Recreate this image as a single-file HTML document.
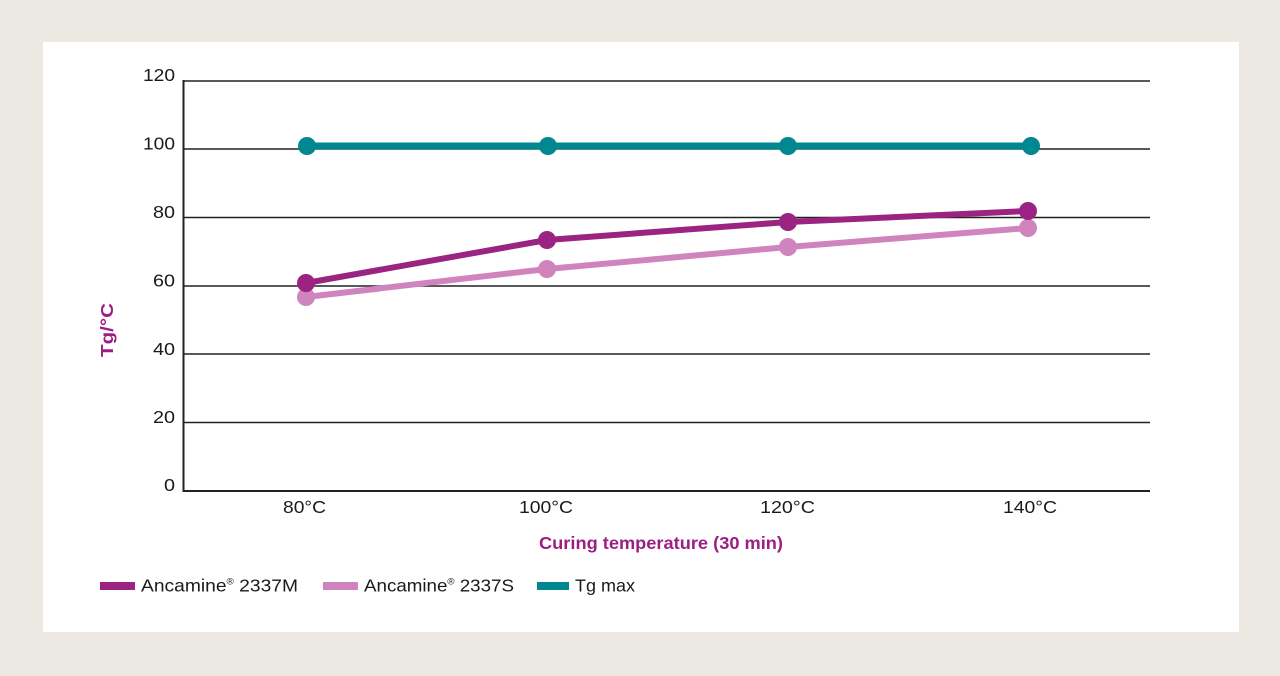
<!DOCTYPE html>
<html><head><meta charset="utf-8"><style>
html,body{margin:0;padding:0;background:#ece9e2;}
svg{display:block;}
text{font-family:"Liberation Sans",sans-serif;}
</style></head><body>
<svg width="1280" height="676" viewBox="0 0 1280 676" xmlns="http://www.w3.org/2000/svg">
<rect x="0" y="0" width="1280" height="676" fill="#ece9e2"/>
<rect x="43" y="42" width="1196" height="590" fill="#ffffff"/>
<g stroke="#222" stroke-width="1.6">
<line x1="183" y1="81" x2="1150" y2="81"/>
<line x1="183" y1="149" x2="1150" y2="149"/>
<line x1="183" y1="217.5" x2="1150" y2="217.5"/>
<line x1="183" y1="286" x2="1150" y2="286"/>
<line x1="183" y1="354" x2="1150" y2="354"/>
<line x1="183" y1="422.5" x2="1150" y2="422.5"/>
<line x1="183" y1="491" x2="1150" y2="491" stroke-width="2"/>
<line x1="183.5" y1="80" x2="183.5" y2="492" stroke-width="2"/>
</g>
<g font-size="17.5" fill="#1a1a1a" text-anchor="end">
<text x="175" y="81" textLength="32" lengthAdjust="spacingAndGlyphs">120</text>
<text x="175" y="149.5" textLength="32" lengthAdjust="spacingAndGlyphs">100</text>
<text x="175" y="218" textLength="22" lengthAdjust="spacingAndGlyphs">80</text>
<text x="175" y="286.5" textLength="22" lengthAdjust="spacingAndGlyphs">60</text>
<text x="175" y="355" textLength="22" lengthAdjust="spacingAndGlyphs">40</text>
<text x="175" y="423" textLength="22" lengthAdjust="spacingAndGlyphs">20</text>
<text x="175" y="491" textLength="11" lengthAdjust="spacingAndGlyphs">0</text>
</g>
<g font-size="17.5" fill="#1a1a1a">
<text x="283" y="513" textLength="43" lengthAdjust="spacingAndGlyphs">80°C</text>
<text x="519" y="513" textLength="54" lengthAdjust="spacingAndGlyphs">100°C</text>
<text x="760" y="513" textLength="55" lengthAdjust="spacingAndGlyphs">120°C</text>
<text x="1003" y="513" textLength="54" lengthAdjust="spacingAndGlyphs">140°C</text>
</g>
<text x="661" y="549" font-size="17.5" font-weight="bold" fill="#9b1f83" text-anchor="middle" textLength="244" lengthAdjust="spacingAndGlyphs">Curing temperature (30 min)</text>
<text transform="translate(113,330) rotate(-90)" font-size="17.5" font-weight="bold" fill="#9b1f83" text-anchor="middle" textLength="54" lengthAdjust="spacingAndGlyphs">Tg/°C</text>
<!-- series -->
<polyline points="307,146 548,146 788,146 1031,146" fill="none" stroke="#00878f" stroke-width="7"/>
<g fill="#00878f">
<circle cx="307" cy="146" r="9"/><circle cx="548" cy="146" r="9"/><circle cx="788" cy="146" r="9"/><circle cx="1031" cy="146" r="9"/>
</g>
<polyline points="306,297 547,269 788,247 1028,228" fill="none" stroke="#cf84bd" stroke-width="6"/>
<g fill="#cf84bd">
<circle cx="306" cy="297" r="9"/><circle cx="547" cy="269" r="9"/><circle cx="788" cy="247" r="9"/><circle cx="1028" cy="228" r="9"/>
</g>
<polyline points="306,283 547,240 788,222 1028,211" fill="none" stroke="#9b2382" stroke-width="6"/>
<g fill="#9b2382">
<circle cx="306" cy="283" r="9"/><circle cx="547" cy="240" r="9"/><circle cx="788" cy="222" r="9"/><circle cx="1028" cy="211" r="9"/>
</g>
<!-- legend -->
<rect x="100" y="582" width="35" height="8" fill="#9b2382"/>
<text x="141" y="591.5" font-size="17.5" fill="#1a1a1a" textLength="157" lengthAdjust="spacingAndGlyphs">Ancamine<tspan font-size="9" dy="-7">®</tspan><tspan dy="7"> 2337M</tspan></text>
<rect x="323" y="582" width="35" height="8" fill="#cf84bd"/>
<text x="364" y="591.5" font-size="17.5" fill="#1a1a1a" textLength="150" lengthAdjust="spacingAndGlyphs">Ancamine<tspan font-size="9" dy="-7">®</tspan><tspan dy="7"> 2337S</tspan></text>
<rect x="537" y="582" width="32" height="8" fill="#00878f"/>
<text x="575" y="591.5" font-size="17.5" fill="#1a1a1a" textLength="60" lengthAdjust="spacingAndGlyphs">Tg max</text>
</svg>
</body></html>
